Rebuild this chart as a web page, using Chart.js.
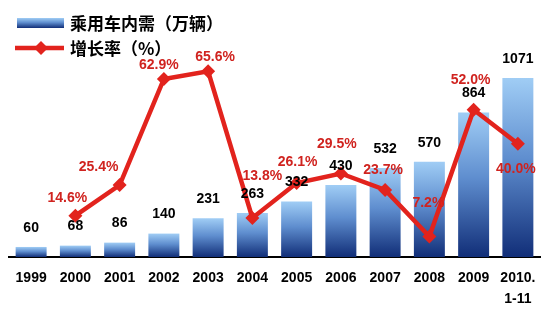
<!DOCTYPE html>
<html>
<head>
<meta charset="utf-8">
<script src="https://cdn.jsdelivr.net/npm/chart.js@4/dist/chart.umd.min.js"></script>
<style>
  html, body { margin: 0; padding: 0; background: #fff; }
  canvas { display: block; }
</style>
</head>
<body>
<canvas id="chart" width="550" height="333"></canvas>
<script>
const years = ['1999', '2000', '2001', '2002', '2003', '2004', '2005', '2006', '2007', '2008', '2009', ['2010.', '1-11']]
const demand = [60, 68, 86, 140, 231, 263, 332, 430, 532, 570, 864, 1071]
const growth = [null, 14.6, 25.4, 62.9, 65.6, 13.8, 26.1, 29.5, 23.7, 7.2, 52.0, 40.0]
const demandLabel = '乘用车内需（万辆）'
const growthLabel = '增长率（%）'

// hand placed offsets for the red % labels, as in the original
const pctOffsets = [null, [-8, -18], [-21, -18], [-5, -14], [7, -14], [10, -42], [1, -21], [-4, -29], [-2, -20], [-1, -33], [-3, -30], [-2, 25]]

const RED = '#e2231d'
const LABEL_RED = '#d0231f'
const numFont = 'bold 14px "Liberation Sans", Arial, sans-serif'
const cjkFont = 'bold 17px "Noto Sans CJK SC", sans-serif'

function barGradient(ctx, top, bottom) {
  const g = ctx.createLinearGradient(0, top, 0, bottom)
  g.addColorStop(0, '#a0cdf5')
  g.addColorStop(0.45, '#5f8ecf')
  g.addColorStop(1, '#112e78')
  return g
}

function barFill(context) {
  const chart = context.chart
  if (!chart.chartArea || context.type !== 'data') return '#5f8ecf'
  const y = chart.scales.y
  const top = y.getPixelForValue(demand[context.dataIndex])
  const base = y.getPixelForValue(0)
  return barGradient(chart.ctx, top, base)
}

const labelsPlugin = {
  id: 'labels',
  afterDatasetsDraw(chart) {
    const ctx = chart.ctx
    ctx.save()
    ctx.textAlign = 'center'
    ctx.textBaseline = 'middle'
    ctx.font = numFont
    const lineMeta = chart.getDatasetMeta(1)
    lineMeta.data.forEach((pt, i) => {
      if (growth[i] == null) return
      const [dx, dy] = pctOffsets[i]
      ctx.fillStyle = LABEL_RED
      ctx.fillText(growth[i].toFixed(1) + '%', pt.x + dx, pt.y + dy)
    })
    const barMeta = chart.getDatasetMeta(0)
    barMeta.data.forEach((bar, i) => {
      ctx.fillStyle = '#000'
      ctx.fillText(String(demand[i]), bar.x, bar.y - 19)
    })
    ctx.restore()
  },
  afterDraw(chart) {
    const ctx = chart.ctx
    ctx.save()
    // bar swatch
    ctx.fillStyle = barGradient(ctx, 18, 28)
    ctx.fillRect(17, 18, 47, 10)
    // line swatch
    ctx.strokeStyle = RED
    ctx.lineWidth = 4.5
    ctx.beginPath()
    ctx.moveTo(15, 48)
    ctx.lineTo(64, 48)
    ctx.stroke()
    ctx.fillStyle = RED
    ctx.beginPath()
    ctx.moveTo(41, 41)
    ctx.lineTo(48, 48)
    ctx.lineTo(41, 55)
    ctx.lineTo(34, 48)
    ctx.closePath()
    ctx.fill()
    ctx.fillStyle = '#000'
    ctx.font = cjkFont
    ctx.textBaseline = 'middle'
    ctx.textAlign = 'left'
    ctx.fillText(demandLabel, 70, 24)
    ctx.fillText(growthLabel, 70, 49)
    ctx.restore()
  }
}

new Chart(document.getElementById('chart'), {
  type: 'bar',
  data: {
    labels: years,
    datasets: [
      {
        type: 'bar',
        label: demandLabel,
        data: demand,
        yAxisID: 'y',
        backgroundColor: barFill,
        borderWidth: 0,
        barPercentage: 0.7,
        categoryPercentage: 1,
        order: 2
      },
      {
        type: 'line',
        label: growthLabel,
        data: growth,
        yAxisID: 'y2',
        borderColor: RED,
        backgroundColor: RED,
        borderWidth: 4.5,
        pointStyle: 'rectRot',
        pointRadius: 7,
        pointBorderWidth: 0,
        tension: 0,
        order: 1
      }
    ]
  },
  options: {
    responsive: false,
    animation: false,
    layout: { padding: { top: 0, left: 9, right: 10, bottom: 20 } },
    plugins: {
      legend: { display: false },
      tooltip: { enabled: false }
    },
    scales: {
      x: {
        grid: { display: false },
        border: { display: true, color: '#000', width: 2 },
        ticks: {
          color: '#000',
          padding: 3,
          maxRotation: 0,
          autoSkip: false,
          font: { family: '"Liberation Sans", Arial, sans-serif', size: 14, weight: 'bold', lineHeight: 1.5 }
        }
      },
      y: { display: false, min: 0, max: 1495 },
      y2: { display: false, min: 0, max: 88.3 }
    }
  },
  plugins: [labelsPlugin]
})
</script>
</body>
</html>
